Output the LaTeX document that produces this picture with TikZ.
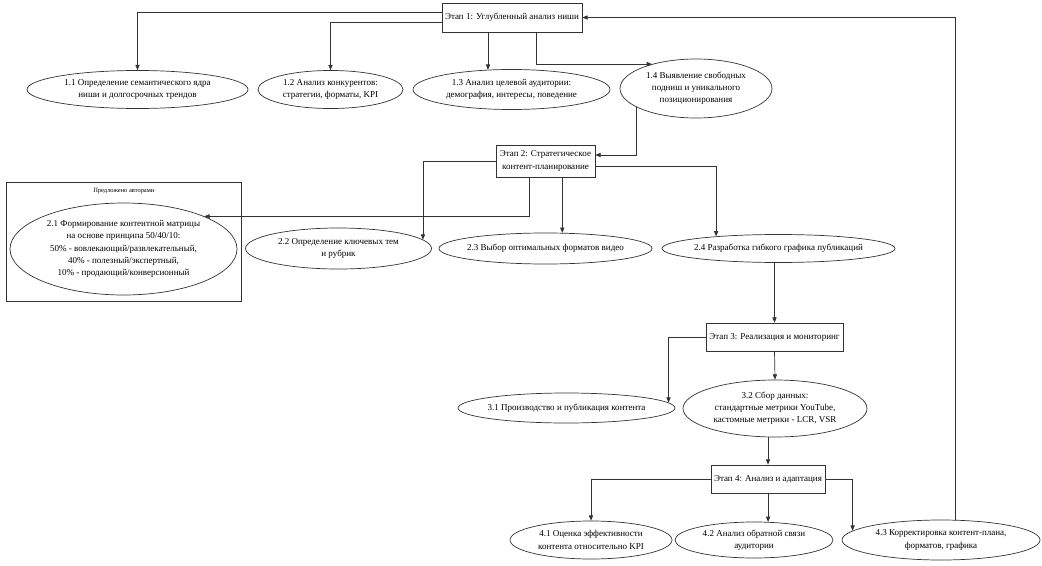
\documentclass[tikz,border=0pt]{standalone}
\usepackage{fontspec}
\setmainfont{Liberation Serif}
\usetikzlibrary{shapes.geometric,arrows.meta}

\begin{document}
\begin{tikzpicture}[x=0.03cm, y=-0.03cm, line cap=round,
		>={Triangle[length=4.5pt,width=3.6pt]},
		txt/.style={font=\fontsize{7.7}{10.4}\selectfont, align=center},
		sz/.style 2 args={minimum width=#1*0.03cm, minimum height=#2*0.03cm},
		stage/.style={draw=black!80, rectangle, inner sep=1pt, line width=0.6pt, txt},
		oval/.style={draw=black!80, ellipse, inner sep=0pt, line width=0.6pt},
		arr/.style={->, draw=black!80, line width=0.6pt}]
		  % Frame
		  \useasboundingbox (0,0) rectangle (1042,566);
		
		  % Stage 1 and its tasks
		  \node[stage, sz={140}{29}] (s1) at (512,17.5) {Этап 1: Углубленный анализ ниши};
		  \node[oval, sz={221}{38}, label={[txt]center:{1.1 Определение семантического ядра\\ниши и долгосрочных трендов}}] (n11) at (137.5,89.5) {};
		  \node[oval, sz={145}{38}, label={[txt]center:{1.2 Анализ конкурентов:\\стратегии, форматы, KPI}}] (n12) at (330.5,89.5) {};
		  \node[oval, sz={197}{40}, label={[txt]center:{1.3 Анализ целевой аудитории:\\демография, интересы, поведение}}] (n13) at (511.5,89.5) {};
		  \node[oval, sz={152}{59}, label={[txt]center:{1.4 Выявление свободных\\подниш и уникального\\позиционирования}}] (n14) at (696,88.5) {};
		
		  % Stage 2 and its tasks
		  \node[stage, sz={99}{32}] (s2) at (545.5,161) {Этап 2: Стратегическое\\контент-планирование};
		  \node[draw=black!80, line width=0.6pt, sz={235}{119}, anchor=north west,
		        label={[anchor=north, yshift=-2pt, font=\fontsize{5.5}{6}\selectfont]north:{Предложено авторами}}] (grp) at (6,182) {};
		  \node[oval, sz={227}{92}, label={[txt]center:{2.1 Формирование контентной матрицы\\на основе принципа 50/40/10:\\50\% - вовлекающий/развлекательный,\\40\% - полезный/экспертный,\\10\% - продающий/конверсионный}}] (n21) at (123.5,249) {};
		  \node[oval, sz={186}{41}, label={[txt]center:{2.2 Определение ключевых тем\\и рубрик}}] (n22) at (338.5,248.5) {};
		  \node[oval, sz={213}{31}, label={[txt]center:{2.3 Выбор оптимальных форматов видео}}] (n23) at (545.5,248.5) {};
		  \node[oval, sz={233}{28}, label={[txt]center:{2.4 Разработка гибкого графика публикаций}}] (n24) at (778.5,248.5) {};
		
		  % Stage 3 and its tasks
		  \node[stage, sz={137}{28}] (s3) at (774.5,337) {Этап 3: Реализация и мониторинг};
		  \node[oval, sz={217}{30}, label={[txt]center:{3.1 Производство и публикация контента}}] (n31) at (566.5,408) {};
		  \node[oval, sz={184}{57}, label={[txt]center:{3.2 Сбор данных:\\стандартные метрики YouTube,\\кастомные метрики - LCR, VSR}}] (n32) at (775,408.5) {};
		
		  % Stage 4 and its tasks
		  \node[stage, sz={114}{28}] (s4) at (768,479) {Этап 4: Анализ и адаптация};
		  \node[oval, sz={162}{38}, label={[txt]center:{4.1 Оценка эффективности\\контента относительно KPI}}] (n41) at (591,540) {};
		  \node[oval, sz={158}{36}, label={[txt]center:{4.2 Анализ обратной связи\\аудитории}}] (n42) at (754,540) {};
		  \node[oval, sz={198}{40}, label={[txt]center:{4.3 Корректировка контент-плана,\\форматов, графика}}] (n43) at (941,540) {};
		
		  % Connectors, stage 1
		  \draw[arr] (s1.west |- 0,12) -| (n11.north);
		  \draw[arr] (s1.west |- 0,22) -| (n12.north);
		  \draw[arr] (n13.140 |- s1.south) -- (n13.140);
		  \draw[arr] (s1.south -| 536,0) |- (n14.151);
		  \draw[arr] (n14.197) |- (s2.east |- 0,155);
		
		  % Connectors, stage 2
		  \draw[arr] (s2.south -| 529,0) |- (n21.22);
		  \draw[arr] (s2.west) -| (n22.6);
		  \draw[arr] (n23.43 |- s2.south) -- (n23.43);
		  \draw[arr] (s2.east |- 0,166) -| (n24.169);
		  \draw[arr] (s3.north |- n24.south) -- (s3.north);
		
		  % Connectors, stage 3
		  \draw[arr] (s3.west) -| (n31.3);
		  \draw[arr] (s3.south) -- (n32.north);
		  \draw[arr] (s4.north |- n32.south) -- (s4.north);
		
		  % Connectors, stage 4 and feedback loop
		  \draw[arr] (s4.west) -| (n41.north);
		  \draw[arr] (n42.52 |- s4.south) -- (n42.52);
		  \draw[arr] (s4.east) -| (n43.174);
		  \draw[arr] (n43.54) |- (s1.east);
		\end{tikzpicture}
\end{document}
